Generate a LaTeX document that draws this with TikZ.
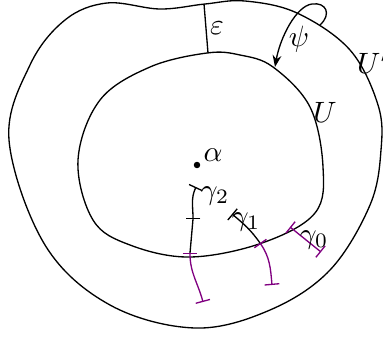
\documentclass[tikz,border=0pt]{standalone}
\usepackage{amsmath}
\usepackage{amssymb}
\usepackage{xcolor}
\usepackage{tikz}
\usetikzlibrary{arrows.meta,positioning,calc}
\tikzset{
  region/.style={draw=black, line width=0.45pt},
  pathblk/.style={draw=black, line width=0.45pt},
  pathvio/.style={draw=violet, line width=0.45pt},
  bars/.style={{Bar[width=5pt]}-{Bar[width=5pt]}},
  mlabel/.style={inner sep=1pt, font=\normalsize},
  psiarrow/.style={-{Stealth[length=4pt,width=3pt]}, draw=black, line width=0.45pt},
}

\begin{document}
\begin{tikzpicture}[x=0.34pt, y=-0.34pt]
  \useasboundingbox (0,0) rectangle (383,338);
  % outer region U' and inner region U
  \draw[region] plot[smooth cycle, tension=0.6] coordinates {
    (107,3) (160,9) (205,4) (245,1) (297,13) (350,50) (378,105) (381,150)
    (370,205) (330,270) (270,310) (195,328) (110,305) (45,245) (9,140)
    (30,65) (65,20)};
  \draw[region] plot[smooth cycle, tension=0.6] coordinates {
    (207,53) (240,55) (273,67) (310,107) (323,167) (315,213) (262,243)
    (190,257) (130,245) (93,220) (78,160) (100,100) (150,67)};
  % epsilon width
  \coordinate (epsTop) at (204,4);
  \coordinate (epsBot) at (208,53);
  \draw[pathblk] (epsTop) -- (epsBot);
  \node (eps) [mlabel] at (217,28) {$\varepsilon$};
  % psi
  \coordinate (psiStart) at (320,25);
  \coordinate (psiEnd) at (275,67);
  \draw[psiarrow] (psiStart) .. controls (332,14) and (326,2) .. (312,4)
    .. controls (296,6) and (280,38) .. (psiEnd);
  \node (psi) [mlabel] at (299,39) {$\psi$};
  \node (labU) [mlabel] at (325,112) {$U$};
  \node (labUp) [mlabel] at (373,62) {$U'$};
  % alpha
  \fill (197,165) circle (1.1pt);
  \node (alpha) [mlabel] at (213,155) {$\alpha$};
  % gamma 2
  \coordinate (g2a) at (196,187);
  \coordinate (g2b) at (193,219);
  \coordinate (g2c) at (190,253);
  \coordinate (g2d) at (203,302);
  \draw[pathblk, bars] (g2a) to[out=-115, in=90] (g2b);
  \draw[pathblk] (g2b) -- (g2c);
  \draw[pathvio, bars] (g2c) to[out=-90, in=105] (g2d);
  \node (gam2) [mlabel] at (215,196) {$\gamma_2$};
  % gamma 1
  \coordinate (g1a) at (232,214);
  \coordinate (g1b) at (260,243);
  \coordinate (g1c) at (272,285);
  \draw[pathblk, {Bar[width=5pt]}-] (g1a) to[out=-40, in=125] (g1b);
  \draw[pathvio, bars] (g1b) to[out=-55, in=95] (g1c);
  \node (gam1) [mlabel] at (246,222) {$\gamma_1$};
  % gamma 0
  \coordinate (g0a) at (290,227);
  \coordinate (g0b) at (321,252);
  \draw[pathvio, bars] (g0a) -- (g0b);
  \node (gam0) [mlabel] at (314,240) {$\gamma_0$};
\end{tikzpicture}
\end{document}
